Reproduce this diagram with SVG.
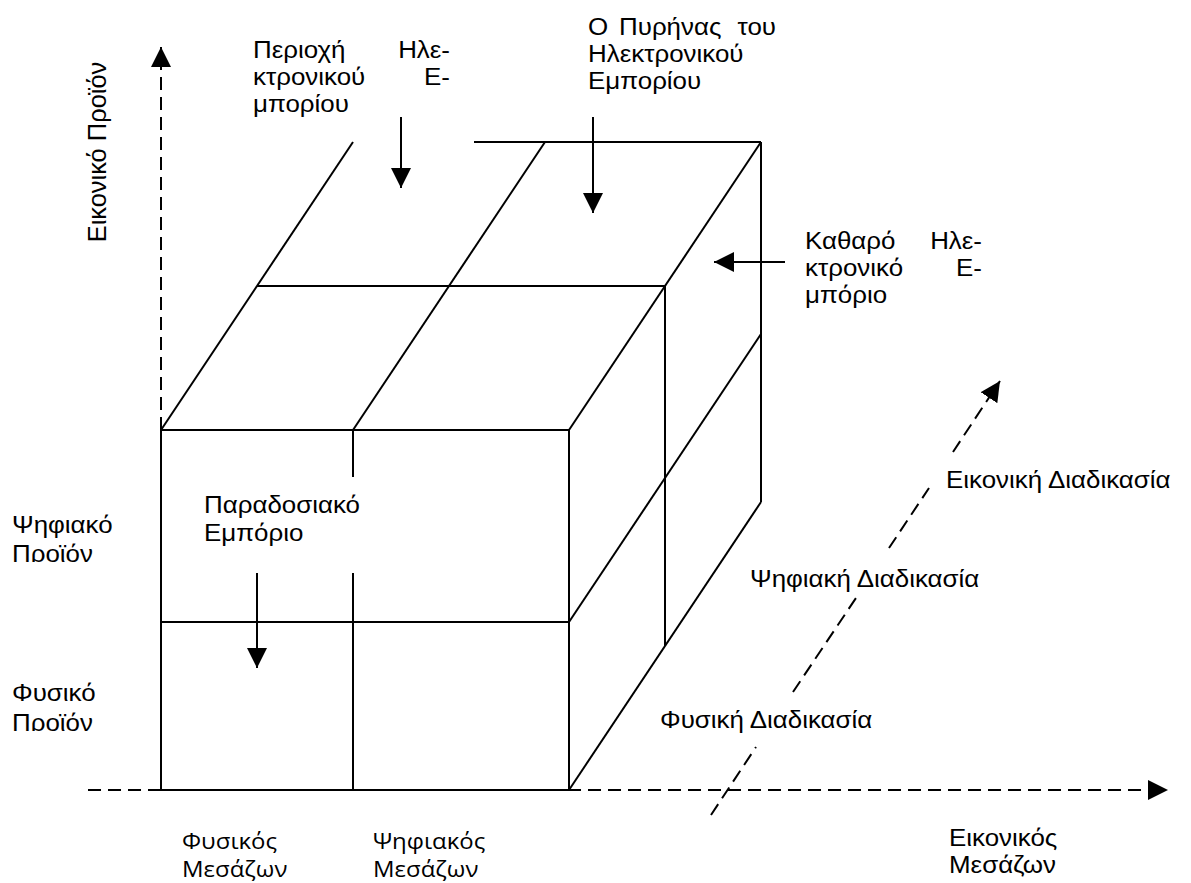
<svg xmlns="http://www.w3.org/2000/svg" width="1191" height="883" viewBox="0 0 1191 883">
  <defs>
    <marker id="head" markerUnits="userSpaceOnUse" markerWidth="20" markerHeight="20" refX="20" refY="10" orient="auto">
      <path d="M0,0 L20,10 L0,20 Z" fill="#000"/>
    </marker>
    <clipPath id="clipDigital"><rect x="0" y="500" width="150" height="62"/></clipPath>
    <clipPath id="clipPhysical"><rect x="0" y="670" width="150" height="61"/></clipPath>
  </defs>
  <style>
    .edge { stroke: #000; stroke-width: 2; fill: none; }
    .dash { stroke: #000; stroke-width: 2; fill: none; stroke-dasharray: 13 7; }
    .arrow { stroke: #000; stroke-width: 2; fill: none; marker-end: url(#head); }
    .lbl { font-family: "Liberation Sans", Arial, sans-serif; font-size: 24px; fill: #000; }
    .lbl2 { font-family: "Open Sans", "Noto Sans", sans-serif; font-size: 22px; fill: #000; }
    .end { text-anchor: end; }
  </style>
  <rect width="1191" height="883" fill="#fff"/>

  <!-- the cube -->
  <g id="cube">
    <!-- front face -->
    <rect class="edge" x="161" y="430" width="408" height="360"/>
    <line class="edge" x1="161" y1="622" x2="569" y2="622"/>
    <line class="edge" x1="353" y1="430" x2="353" y2="477"/>
    <line class="edge" x1="353" y1="573" x2="353" y2="790"/>
    <!-- top face -->
    <line class="edge" x1="257" y1="286" x2="665" y2="286"/>
    <line class="edge" x1="474" y1="142" x2="761" y2="142"/>
    <line class="edge" x1="161" y1="430" x2="353" y2="142"/>
    <line class="edge" x1="353" y1="430" x2="545" y2="142"/>
    <line class="edge" x1="569" y1="430" x2="761" y2="142"/>
    <!-- right face -->
    <line class="edge" x1="665" y1="286" x2="665" y2="646"/>
    <line class="edge" x1="761" y1="142" x2="761" y2="502"/>
    <line class="edge" x1="569" y1="622" x2="761" y2="334"/>
    <line class="edge" x1="569" y1="790" x2="761" y2="502"/>
  </g>

  <!-- axes and pointer arrows -->
  <g id="connectors">
    <line class="dash" x1="161" y1="430" x2="161" y2="47" marker-end="url(#head)"/>
    <line class="dash" x1="88" y1="790" x2="1168" y2="790" marker-end="url(#head)"/>
    <line class="dash" x1="711" y1="815" x2="756" y2="747"/>
    <line class="dash" x1="793" y1="692" x2="856" y2="598"/>
    <line class="dash" x1="889" y1="548" x2="929" y2="488"/>
    <line class="dash" x1="953" y1="452" x2="1000" y2="381" marker-end="url(#head)"/>
    <line class="arrow" x1="401" y1="117" x2="401" y2="188"/>
    <line class="arrow" x1="593" y1="117" x2="593" y2="213"/>
    <line class="arrow" x1="785" y1="262" x2="714" y2="262"/>
    <line class="arrow" x1="257" y1="573" x2="257" y2="668"/>
  </g>

  <!-- axis titles -->
  <g id="axis-virtual-product">
    <text class="lbl" transform="translate(106,152) rotate(-90) scale(1.06,1.06)" text-anchor="middle">Εικονικό Προϊόν</text>
  </g>
  <g id="axis-digital-product">
    <text class="lbl" transform="translate(12,533) scale(1.08,1)">Ψηφιακό</text>
    <g clip-path="url(#clipDigital)">
      <text class="lbl" transform="translate(12,562) scale(1.08,1)">Προϊόν</text>
    </g>
  </g>
  <g id="axis-physical-product">
    <text class="lbl" transform="translate(12,701) scale(1.08,1)">Φυσικό</text>
    <g clip-path="url(#clipPhysical)">
      <text class="lbl" transform="translate(12,731) scale(1.08,1)">Προϊόν</text>
    </g>
  </g>
  <g id="axis-physical-agent">
    <text class="lbl2" transform="translate(182,849) scale(1.09,1)">Φυσικός</text>
    <text class="lbl2" transform="translate(182,877) scale(1.09,1)">Μεσάζων</text>
  </g>
  <g id="axis-digital-agent">
    <text class="lbl2" transform="translate(373,849) scale(1.09,1)">Ψηφιακός</text>
    <text class="lbl2" transform="translate(373,877) scale(1.09,1)">Μεσάζων</text>
  </g>
  <g id="axis-virtual-agent">
    <text class="lbl" transform="translate(949,846) scale(1.08,1)">Εικονικός</text>
    <text class="lbl" transform="translate(949,873) scale(1.08,1)">Μεσάζων</text>
  </g>
  <g id="axis-physical-process">
    <text class="lbl" transform="translate(660,728) scale(1.08,1)">Φυσική Διαδικασία</text>
  </g>
  <g id="axis-digital-process">
    <text class="lbl" transform="translate(750,587) scale(1.08,1)">Ψηφιακή Διαδικασία</text>
  </g>
  <g id="axis-virtual-process">
    <text class="lbl" transform="translate(946,488) scale(1.08,1)">Εικονική Διαδικασία</text>
  </g>

  <!-- region labels -->
  <g id="label-ecommerce-area">
    <text class="lbl" transform="translate(253,58) scale(1.08,1)">Περιοχή</text>
    <text class="lbl end" transform="translate(450,58) scale(1.08,1)">Ηλε-</text>
    <text class="lbl" transform="translate(253,85) scale(1.08,1)">κτρονικού</text>
    <text class="lbl end" transform="translate(450,85) scale(1.08,1)">Ε-</text>
    <text class="lbl" transform="translate(253,112) scale(1.08,1)">μπορίου</text>
  </g>
  <g id="label-ecommerce-core">
    <text class="lbl" transform="translate(588,35) scale(1.08,1)">Ο</text>
    <text class="lbl" transform="translate(619,35) scale(1.08,1)">Πυρήνας</text>
    <text class="lbl end" transform="translate(776,35) scale(1.08,1)">του</text>
    <text class="lbl" transform="translate(588,62) scale(1.08,1)">Ηλεκτρονικού</text>
    <text class="lbl" transform="translate(588,89) scale(1.08,1)">Εμπορίου</text>
  </g>
  <g id="label-pure-ecommerce">
    <text class="lbl" transform="translate(805,249) scale(1.08,1)">Καθαρό</text>
    <text class="lbl end" transform="translate(982,249) scale(1.08,1)">Ηλε-</text>
    <text class="lbl" transform="translate(805,276) scale(1.08,1)">κτρονικό</text>
    <text class="lbl end" transform="translate(982,276) scale(1.08,1)">Ε-</text>
    <text class="lbl" transform="translate(805,303) scale(1.08,1)">μπόριο</text>
  </g>
  <g id="label-traditional-commerce">
    <text class="lbl" transform="translate(204,513) scale(1.08,1)">Παραδοσιακό</text>
    <text class="lbl" transform="translate(204,541) scale(1.08,1)">Εμπόριο</text>
  </g>
</svg>
